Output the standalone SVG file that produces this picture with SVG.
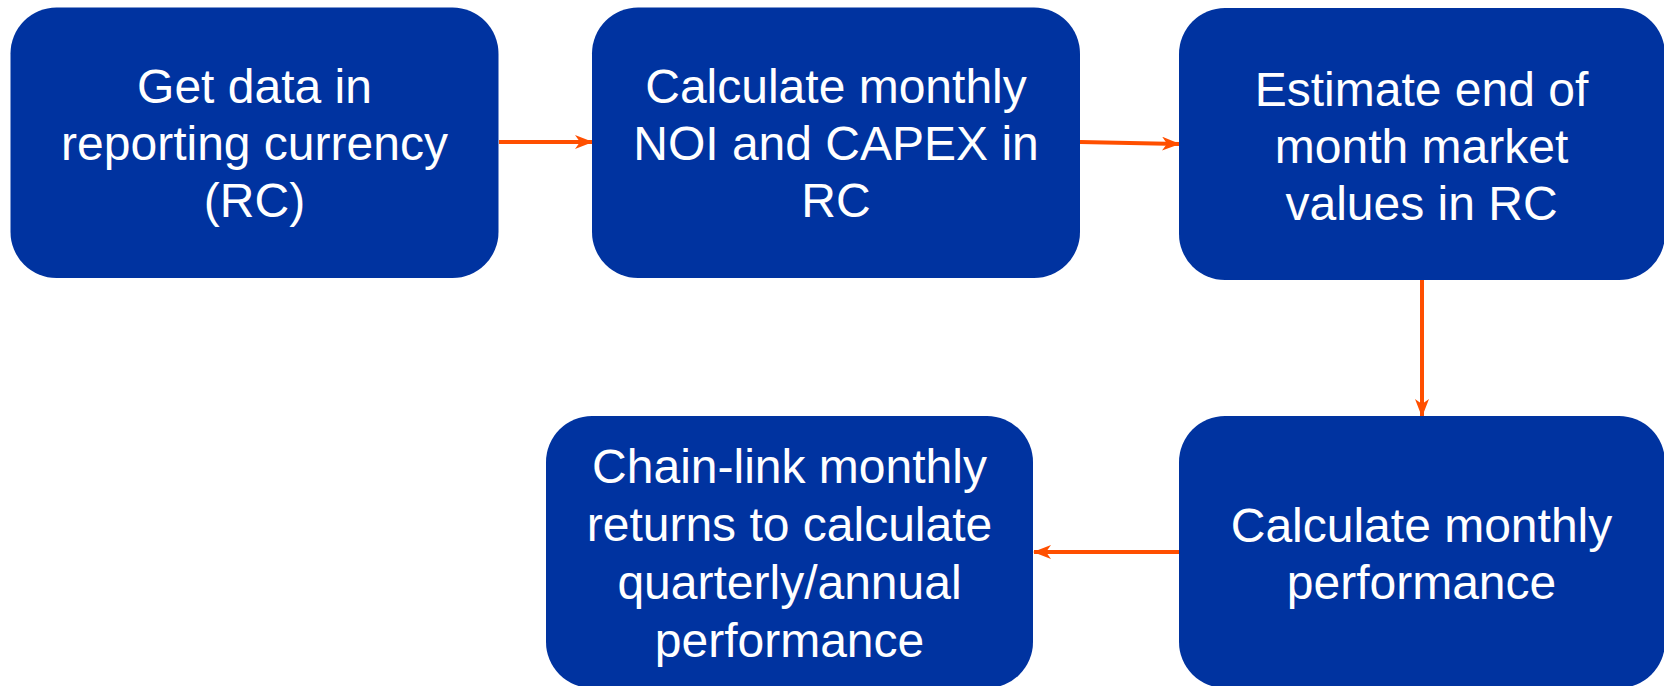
<svg xmlns="http://www.w3.org/2000/svg" width="1664" height="686" viewBox="0 0 1664 686">
<defs>
<marker id="ah" markerWidth="18" markerHeight="14" refX="17" refY="7" orient="auto" markerUnits="userSpaceOnUse">
<path d="M0,0 L18,7 L0,14 L5,7 Z" fill="#FF4F00"/>
</marker>
<style>
.box{fill:#0033A0;}
.t{font-family:"Liberation Sans",Arial,sans-serif;font-size:48px;fill:#ffffff;text-anchor:middle;}
.c{stroke:#FF4F00;stroke-width:4;fill:none;marker-end:url(#ah);}
</style>
</defs>
<rect width="1664" height="686" fill="#ffffff"/>
<g id="connectors">
<line class="c" x1="499" y1="142" x2="592" y2="142"/>
<line class="c" x1="1080" y1="142" x2="1179" y2="144"/>
<line class="c" x1="1422" y1="280" x2="1422" y2="416"/>
<line class="c" x1="1179" y1="552" x2="1034" y2="552"/>
</g>
<g id="n1">
<rect class="box" x="10.5" y="7.5" width="488" height="270.5" rx="46" ry="46"/>
<text class="t" x="254.5"><tspan x="254.5" y="103">Get data in</tspan><tspan x="254.5" y="160">reporting currency</tspan><tspan x="254.5" y="217">(RC)</tspan></text>
</g>
<g id="n2">
<rect class="box" x="592" y="7.5" width="488" height="270.5" rx="46" ry="46"/>
<text class="t"><tspan x="836" y="103">Calculate monthly</tspan><tspan x="836" y="160">NOI and CAPEX in</tspan><tspan x="836" y="217">RC</tspan></text>
</g>
<g id="n3">
<rect class="box" x="1179" y="8" width="486" height="272" rx="46" ry="46"/>
<text class="t"><tspan x="1421.5" y="106">Estimate end of</tspan><tspan x="1421.5" y="163">month market</tspan><tspan x="1421.5" y="220">values in RC</tspan></text>
</g>
<g id="n4">
<rect class="box" x="1179" y="416" width="486" height="272" rx="46" ry="46"/>
<text class="t"><tspan x="1421.5" y="542">Calculate monthly</tspan><tspan x="1421.5" y="599">performance</tspan></text>
</g>
<g id="n5">
<rect class="box" x="546" y="416" width="487" height="272" rx="46" ry="46"/>
<text class="t"><tspan x="789.5" y="483">Chain-link monthly</tspan><tspan x="789.5" y="541">returns to calculate</tspan><tspan x="789.5" y="599">quarterly/annual</tspan><tspan x="789.5" y="657">performance</tspan></text>
</g>
</svg>
